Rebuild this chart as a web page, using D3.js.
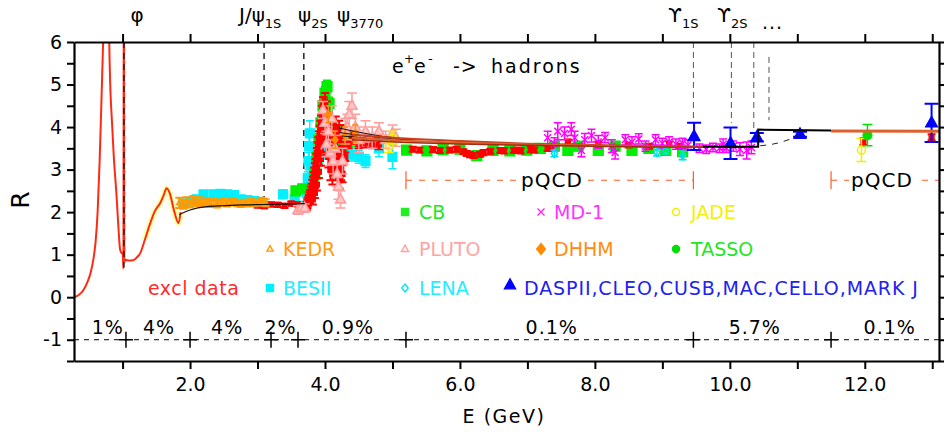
<!DOCTYPE html>
<html>
<head>
<meta charset="utf-8">
<script src="https://cdn.jsdelivr.net/npm/d3@7"></script>
<style>
  body { margin: 0; background: #fff; }
  svg { display: block; }
  text { font-family: "DejaVu Sans", sans-serif; }
</style>
</head>
<body>
<svg id="chart" width="944" height="432"></svg>
<script>
// ---------------- data: R = sigma(e+e- -> hadrons) / sigma(e+e- -> mu+mu-) ----------------
// exclusive-channel sum below 2 GeV  [E (GeV), R]
const exclCurve = [
  [0.28,0],[0.35,0.05],[0.42,0.17],[0.48,0.36],[0.53,0.6],[0.57,0.92],[0.60,1.3],[0.63,2.0],
  [0.66,3.2],[0.69,4.8],[0.715,6.2],[0.745,8.4],[0.775,9.6],[0.79,8.0],[0.80,6.3],[0.815,5.1],
  [0.84,4.2],[0.87,3.3],[0.91,2.4],[0.94,1.6],[0.963,1.12],[0.985,1.04],[1.003,1.0],[1.012,0.67],
  [1.0195,9.0],[1.027,0.82],[1.045,0.88],[1.086,0.86],[1.16,0.87],[1.22,0.95],[1.26,1.03],
  [1.33,1.35],[1.41,1.74],[1.48,2.03],[1.56,2.22],[1.61,2.4],[1.65,2.56],[1.70,2.44],
  [1.76,2.05],[1.83,1.74],[1.86,2.0]
];
// uncertainty halo of the exclusive sum
const exclHalo = exclCurve.filter(p => p[0] >= 1.3);

// theory curves
const theoryLow   = [[1.84,1.94],[2.0,2.05],[2.25,2.13],[2.5,2.15],[2.8,2.17],[3.1,2.18],[3.7,2.2]];
const theoryFanA  = [[4.2,3.98],[4.7,3.82],[5.3,3.7]];
const theoryFanB  = [[4.22,3.87],[4.7,3.77],[5.3,3.69]];
const theoryFanC  = [[4.25,3.79],[4.7,3.73],[5.3,3.68]];
const pqcdBandA   = [[4.4,3.82],[5.2,3.73],[6.0,3.67],[7.0,3.61],[8.0,3.58],[9.0,3.55],[9.6,3.54]];
const pqcdBandB   = [[4.4,3.75],[5.2,3.68],[6.0,3.63],[7.0,3.59],[8.0,3.56],[9.0,3.54],[9.6,3.54]];
const pqcdBandC   = [[4.4,3.7],[5.2,3.64],[6.0,3.6],[7.0,3.57],[8.0,3.55],[9.0,3.53],[9.6,3.53]];
const bottomStep  = [[9.6,3.54],[10.42,3.54],[10.42,3.94],[11.5,3.92]];
const highTail    = [[11.5,3.91],[13.1,3.9]];
const threshCurve = [[10.45,3.56],[10.7,3.62],[10.95,3.75],[11.1,3.85]];

// measurements  [E (GeV), R, error]
const besII = [
  [1.9,2.2,0.1],[2.0,2.25,0.08],[2.1,2.3,0.08],[2.2,2.42,0.08],[2.35,2.42,0.08],[2.45,2.43,0.08],
  [2.55,2.42,0.08],[2.65,2.4,0.08],[2.75,2.3,0.08],[2.85,2.28,0.08],[2.95,2.26,0.08],[3.07,2.2,0.07],
  [3.38,2.42,0.1],[3.55,2.3,0.1],[3.65,2.15,0.1],[3.73,2.45,0.12],[3.745,2.8,0.15],[3.755,3.2,0.2],
  [3.765,3.55,0.25],[3.775,3.85,0.3],[3.79,3.1,0.2],[3.85,2.95,0.2],[3.9,3.2,0.2],[4.0,3.45,0.2],
  [4.1,3.85,0.2],[4.2,3.55,0.2],[4.3,3.4,0.15],[4.4,3.35,0.15],[4.5,3.3,0.15],[4.6,3.2,0.15],
  [4.8,3.5,0.2],[5.0,3.3,0.28]
];
const cb = [
  [3.57,2.5,0.08],[3.67,2.55,0.08],[3.85,2.9,0.15],[3.88,3.3,0.15],[3.91,3.7,0.15],[3.94,4.1,0.15],
  [3.97,4.5,0.15],[4.0,4.8,0.15],[4.03,4.95,0.15],[4.06,4.55,0.15],[4.1,4.0,0.15],[4.13,3.7,0.15],
  [4.17,3.9,0.15],[4.2,3.5,0.15],[4.25,3.45,0.15],[4.3,3.7,0.15],[4.35,3.8,0.15],[4.45,3.7,0.15],
  [5.21,3.46,0.1],[5.51,3.44,0.1],[5.75,3.47,0.1],[6.0,3.48,0.1],[6.25,3.33,0.1],[6.49,3.45,0.1],
  [6.74,3.44,0.1],[6.99,3.46,0.1],[7.19,3.5,0.1],[7.4,3.55,0.1],[7.6,3.45,0.1],[7.75,3.55,0.1],
  [8.05,3.45,0.1],[8.3,3.55,0.1],[8.55,3.45,0.1],[8.8,3.5,0.1],[9.05,3.45,0.1],[9.3,3.42,0.1]
];
const scanRed = [
  [3.0,2.16,0.05],[3.1,2.14,0.05],[3.2,2.18,0.05],[3.3,2.17,0.05],[3.4,2.15,0.05],[3.5,2.2,0.05],
  [3.6,2.18,0.05],[3.7,2.12,0.05],
  [3.73,2.15,0.1],[3.74,2.2,0.1],[3.75,2.25,0.1],[3.76,2.3,0.1],[3.77,2.35,0.12],[3.78,2.4,0.12],
  [3.79,2.48,0.12],[3.80,2.55,0.12],[3.81,2.62,0.14],[3.82,2.7,0.14],[3.83,2.8,0.14],[3.84,2.9,0.15],
  [3.85,3.0,0.15],[3.86,3.1,0.15],[3.87,3.22,0.15],[3.88,3.35,0.16],[3.89,3.48,0.16],[3.90,3.6,0.16],
  [3.91,3.72,0.18],[3.92,3.85,0.18],[3.93,3.97,0.18],[3.94,4.1,0.18],[3.955,4.3,0.2],[3.97,4.5,0.2],
  [3.82,2.3,0.12],[3.85,2.45,0.12],[3.88,2.65,0.14],[3.91,2.95,0.15],[3.94,3.25,0.16],[3.97,3.6,0.18],
  [3.96,4.4,0.2],[3.97,4.0,0.2],[3.98,4.5,0.2],[3.99,3.8,0.2],[4.0,4.6,0.2],
  [4.01,4.2,0.2],[4.02,3.6,0.25],[4.03,4.4,0.2],[4.04,3.9,0.25],[4.05,3.3,0.25],[4.06,4.1,0.25],
  [4.07,3.5,0.25],[4.08,3.0,0.25],[4.09,3.8,0.25],[4.10,3.2,0.25],[4.11,2.9,0.25],[4.12,3.6,0.25],
  [4.13,3.1,0.25],[4.14,3.9,0.25],[4.15,3.4,0.25],[4.16,4.0,0.25],[4.17,3.0,0.25],[4.18,3.7,0.25],
  [4.19,2.8,0.25],[4.20,3.3,0.25],[4.21,3.9,0.25],[4.22,2.75,0.2],[4.23,3.5,0.25],[4.24,3.0,0.25],
  [4.25,3.8,0.25],[4.26,2.9,0.2],[4.27,3.4,0.25],
  [4.30,3.3,0.1],[4.35,3.6,0.1],[4.40,3.8,0.1],[4.45,3.7,0.1],[4.5,3.6,0.1],[4.6,3.62,0.1],
  [4.7,3.6,0.1],[4.8,3.58,0.1],
  [5.3,3.48,0.06],[5.4,3.46,0.06],[5.6,3.47,0.06],[5.7,3.45,0.06],[5.85,3.46,0.06],[5.95,3.48,0.06],
  [6.05,3.42,0.06],[6.1,3.38,0.06],[6.15,3.35,0.06],[6.2,3.33,0.06],[6.3,3.36,0.06],[6.35,3.4,0.06],
  [6.45,3.43,0.06],[6.6,3.45,0.06],[6.65,3.44,0.06],[6.8,3.45,0.06],[6.85,3.46,0.06],[6.9,3.44,0.06],
  [7.05,3.47,0.06],[7.1,3.46,0.06],[7.3,3.5,0.06],[7.35,3.52,0.06],
  [7.6,3.65,0.06],[8.05,3.6,0.06],[8.5,3.58,0.06],[8.8,3.55,0.06],[9.1,3.6,0.06],[9.25,3.55,0.06],
  [11.98,3.66,0.08],[12.99,3.76,0.07]
];
const pluto = [
  [3.6,2.05,0.1],[3.65,2.1,0.1],[3.7,2.1,0.1],[3.97,4.4,0.2],[4.0,4.1,0.25],[4.02,3.6,0.3],
  [4.05,3.9,0.3],[4.08,3.4,0.3],[4.1,4.2,0.3],[4.12,3.2,0.3],[4.15,3.5,0.3],[4.18,2.9,0.3],
  [4.2,2.6,0.3],[4.23,2.3,0.2],[4.26,3.2,0.3],[4.3,3.9,0.3],[4.33,4.0,0.3],[4.36,4.3,0.3],
  [4.4,4.5,0.3],[4.45,4.0,0.3],[4.5,3.7,0.3],[4.6,3.9,0.25],[4.7,3.75,0.25],[4.8,3.9,0.2],
  [4.9,3.7,0.2],[5.0,3.85,0.2],[5.05,3.75,0.2]
];
const dhhm = [[4.05,4.3,0.2],[4.15,3.7,0.2],[4.3,3.8,0.2],[4.45,3.85,0.2]];
const kedr = [
  [1.84,2.22,0.12],[1.90,2.18,0.1],[1.95,2.25,0.1],[2.0,2.2,0.09],[2.05,2.28,0.1],[2.1,2.22,0.08],
  [2.15,2.26,0.09],[2.2,2.21,0.08],[2.25,2.24,0.08],[2.3,2.2,0.08],[2.35,2.23,0.08],[2.4,2.19,0.08],
  [2.45,2.22,0.07],[2.5,2.24,0.08],[2.55,2.2,0.07],[2.6,2.23,0.07],[2.65,2.25,0.08],[2.7,2.21,0.07],
  [2.75,2.19,0.07],[2.8,2.22,0.07],[2.85,2.2,0.07],[2.9,2.24,0.07],[2.95,2.21,0.07],[3.0,2.22,0.07],
  [3.05,2.26,0.08],[3.08,2.24,0.08],[3.12,2.22,0.08]
];
const md1 = [
  [7.3,3.75,0.15],[7.4,3.6,0.15],[7.45,3.9,0.2],[7.55,3.85,0.15],[7.65,3.95,0.15],[7.7,3.75,0.15],
  [7.8,3.45,0.15],[7.85,3.7,0.15],[7.95,3.8,0.15],[8.05,3.65,0.15],[8.15,3.75,0.12],[8.25,3.55,0.15],
  [8.3,3.4,0.15],[8.45,3.7,0.12],[8.55,3.65,0.12],[8.65,3.72,0.12],[8.75,3.55,0.12],[8.9,3.7,0.12],
  [9.0,3.62,0.12],[9.1,3.65,0.12],[9.2,3.6,0.12],[9.3,3.62,0.12],[9.38,3.58,0.12],[9.55,3.5,0.1],
  [9.65,3.48,0.1],[9.75,3.52,0.1],[9.85,3.5,0.1],[9.9,3.6,0.12],[9.95,3.5,0.1],[10.05,3.55,0.12],
  [10.15,3.48,0.15],[10.25,3.45,0.2],[10.32,3.52,0.15]
];
const lena  = [[7.4,3.38,0.08],[8.92,3.4,0.08],[9.05,3.45,0.08],[9.3,3.33,0.1]];
const jade  = [[4.95,3.55,0.15],[5.0,3.75,0.15],[11.95,3.46,0.27]];
const tasso = [[12.04,3.81,0.25]];
const daspEtAl = [[9.47,3.78,0.32],[10.01,3.62,0.37],[10.4,3.76,0.1],[11.04,3.83,0.06],[12.99,4.1,0.45]];

// resonances: vertical marker lines [E, lower R]
const lightResE   = [1.0195, 3.097, 3.686];
const lightResLow = [0.7, 2.35, 2.3];
const upsilonE    = [9.46, 10.023, 10.355, 10.58];
const upsilonLow  = [4.1, 4.1, 3.86, 4.16];
const upsilonTop  = [6, 6, 6, 5.65];

// systematic-uncertainty regions along R = -1
const segmentE      = [1.05, 2.0, 3.2, 3.6, 5.2, 9.46, 11.5];
const percentLabels = ["1%", "4%", "4%", "2%", "0.9%", "0.1%", "5.7%", "0.1%"];
const percentE      = [0.78, 1.54, 2.55, 3.34, 4.34, 7.36, 10.37, 12.37];

// perturbative QCD ranges at R = 2.75
const pqcdRanges = [[5.2, 9.46], [11.5, 13.1]];
const pqcdLevel  = 2.75;

const xTicks = d3.range(1, 14);
const yTicks = d3.range(-1.5, 6.01, 0.5);

// ---------------- layout ----------------
const svg = d3.select("#chart");
const x = d3.scaleLinear().domain([0.28, 13.1]).range([74, 939]);
const y = d3.scaleLinear().domain([-1.5, 6]).range([361, 42]);

svg.append("defs").append("clipPath").attr("id", "plotClip")
  .append("rect").attr("x", 74).attr("y", 42).attr("width", 865).attr("height", 319);

const plot = svg.append("g").attr("clip-path", "url(#plotClip)");
const line = d3.line().x(d => x(d[0])).y(d => y(d[1]));
const smooth = d3.line().x(d => x(d[0])).y(d => y(d[1])).curve(d3.curveMonotoneX);

// R = -1 reference line with segment boundaries
plot.append("line").attr("x1", x(0.28)).attr("x2", x(13.1)).attr("y1", y(-1)).attr("y2", y(-1))
  .attr("stroke", "#000").attr("stroke-width", 1).attr("stroke-dasharray", "5,5");
plot.selectAll(".seg").data(segmentE).enter().append("path")
  .attr("d", e => `M${x(e) - 7},${y(-1)}h14M${x(e)},${y(-1) - 8}v16`)
  .attr("stroke", "#000").attr("stroke-width", 1.5);

// pQCD ranges
pqcdRanges.forEach(r => {
  plot.append("line").attr("x1", x(r[0])).attr("x2", x(r[1])).attr("y1", y(pqcdLevel)).attr("y2", y(pqcdLevel))
    .attr("stroke", "#ff5a28").attr("stroke-width", 1.2).attr("stroke-dasharray", "6,7");
  r.forEach(e => {
    if (e < 13) plot.append("line").attr("x1", x(e)).attr("x2", x(e))
      .attr("y1", y(pqcdLevel) - 9).attr("y2", y(pqcdLevel) + 9)
      .attr("stroke", "#ff5a28").attr("stroke-width", 1.2);
  });
});

// exclusive data curve
plot.append("path").attr("d", smooth(exclHalo)).attr("fill", "none")
  .attr("stroke", "#ffffa8").attr("stroke-width", 6).attr("stroke-linejoin", "round");
plot.append("path").attr("d", smooth(exclCurve)).attr("fill", "none")
  .attr("stroke", "#ff2a14").attr("stroke-width", 2);

// resonance lines
lightResE.forEach((e, i) => {
  plot.append("line").attr("x1", x(e)).attr("x2", x(e)).attr("y1", y(6)).attr("y2", y(lightResLow[i]))
    .attr("stroke", "#222").attr("stroke-width", 1.5).attr("stroke-dasharray", "6,5");
});
upsilonE.forEach((e, i) => {
  plot.append("line").attr("x1", x(e)).attr("x2", x(e)).attr("y1", y(upsilonTop[i])).attr("y2", y(upsilonLow[i]))
    .attr("stroke", "#555").attr("stroke-width", 1).attr("stroke-dasharray", "6,4");
});

// marker shapes
function shape(kind, s) {
  switch (kind) {
    case "square":   return `M${-s},${-s}h${2 * s}v${2 * s}h${-2 * s}Z`;
    case "triangle": return `M0,${-s * 1.1}L${s},${s * 0.7}L${-s},${s * 0.7}Z`;
    case "diamond":  return `M0,${-s}L${s * 0.8},0L0,${s}L${-s * 0.8},0Z`;
    case "circle":   return `M${s},0A${s},${s} 0 1,1 ${-s},0A${s},${s} 0 1,1 ${s},0Z`;
    case "cross":    return `M${-s},${-s}L${s},${s}M${s},${-s}L${-s},${s}`;
  }
}

function drawSeries(data, st) {
  const g = plot.append("g");
  g.selectAll("path.err").data(data).enter().append("path")
    .attr("d", d => {
      const px = x(d[0]), lo = y(d[1] - d[2]), hi = y(d[1] + d[2]);
      return `M${px},${lo}V${hi}M${px - st.cap},${hi}h${2 * st.cap}M${px - st.cap},${lo}h${2 * st.cap}`;
    })
    .attr("fill", "none").attr("stroke", st.bar || st.color).attr("stroke-width", st.barWidth || 1.5);
  g.selectAll("path.mk").data(data).enter().append("path")
    .attr("transform", d => `translate(${x(d[0])},${y(d[1])})`)
    .attr("d", shape(st.shape, st.size))
    .attr("fill", st.fill ? st.color : (st.innerFill || "none"))
    .attr("stroke", st.color).attr("stroke-width", st.stroke || 1.2);
}

drawSeries(besII,   { color: "#00f0ff", shape: "square",   size: 4.5, fill: true, cap: 4 });
drawSeries(cb,      { color: "#00ee00", shape: "square",   size: 5,   fill: true, cap: 4 });
drawSeries(scanRed, { color: "#ff0000", shape: "square",   size: 2.5, fill: true, cap: 4, barWidth: 2 });
drawSeries(pluto,   { color: "#ff9c9c", shape: "triangle", size: 5,   fill: false, innerFill: "#ffc8c8", cap: 5, stroke: 1.6 });
drawSeries(dhhm,    { color: "#ff8c00", shape: "diamond",  size: 4,   fill: true, cap: 3 });
drawSeries(kedr,    { color: "#ff9a00", shape: "triangle", size: 3,   fill: false, cap: 4, barWidth: 2 });
drawSeries(md1,     { color: "#ff00ff", shape: "cross",    size: 3.5, fill: false, cap: 4, stroke: 1.5 });
drawSeries(lena,    { color: "#00e0e8", shape: "diamond",  size: 4,   fill: false, cap: 4, stroke: 1.5 });
drawSeries(jade,    { color: "#f0f000", shape: "circle",   size: 4,   fill: false, cap: 5, stroke: 1.5 });
drawSeries(tasso,   { color: "#00e000", shape: "circle",   size: 4.5, fill: true,  cap: 5 });
drawSeries(daspEtAl,{ color: "#0000ff", shape: "triangle", size: 6,   fill: true,  cap: 7, barWidth: 2 });

// theory curves on top of the data
[theoryFanA, theoryFanB, theoryFanC].forEach(c =>
  plot.append("path").attr("d", smooth(c)).attr("fill", "none").attr("stroke", "#111").attr("stroke-width", 1));
plot.append("path").attr("d", smooth(theoryLow)).attr("fill", "none").attr("stroke", "#111").attr("stroke-width", 1.2);
plot.append("path").attr("d", smooth(pqcdBandA)).attr("fill", "none").attr("stroke", "#c8401c").attr("stroke-width", 2);
plot.append("path").attr("d", smooth(pqcdBandB)).attr("fill", "none").attr("stroke", "#e0602c").attr("stroke-width", 2);
plot.append("path").attr("d", smooth(pqcdBandC)).attr("fill", "none").attr("stroke", "#a02c14").attr("stroke-width", 1.5);
plot.append("path").attr("d", line(bottomStep)).attr("fill", "none").attr("stroke", "#000").attr("stroke-width", 2);
plot.append("path").attr("d", line(highTail)).attr("fill", "none").attr("stroke", "#e0602c").attr("stroke-width", 3);
plot.append("path").attr("d", smooth(threshCurve)).attr("fill", "none").attr("stroke", "#222")
  .attr("stroke-width", 1).attr("stroke-dasharray", "6,6");

// ---------------- axes ----------------
function styleAxis(g) {
  g.attr("font-family", "DejaVu Sans").attr("font-size", 19);
  g.select(".domain").attr("stroke", "#000").attr("stroke-width", 2.2);
  g.selectAll(".tick line").attr("stroke", "#000").attr("stroke-width", 2);
  g.selectAll(".tick text").attr("fill", "#000");
}
svg.append("g").attr("transform", "translate(0,361)")
  .call(d3.axisBottom(x).tickValues(xTicks).tickSize(8).tickSizeOuter(0).tickPadding(9)
    .tickFormat(d => d % 2 === 0 ? d3.format(".1f")(d) : ""))
  .call(styleAxis);
svg.append("g").attr("transform", "translate(0,42)")
  .call(d3.axisTop(x).tickValues(xTicks).tickSize(8).tickSizeOuter(0).tickFormat(""))
  .call(styleAxis);
svg.append("g").attr("transform", "translate(74,0)")
  .call(d3.axisLeft(y).tickValues(yTicks).tickSize(7).tickSizeOuter(0).tickPadding(5)
    .tickFormat(d => (Number.isInteger(d) ? String(d) : "")))
  .call(styleAxis);
svg.append("g").attr("transform", "translate(939,0)")
  .call(d3.axisRight(y).tickValues(yTicks).tickSize(6).tickSizeOuter(0).tickFormat(""))
  .call(styleAxis);

// axis titles
svg.append("text").attr("transform", "translate(29,200) rotate(-90)").attr("text-anchor", "middle")
  .attr("font-size", 25).text("R");
svg.append("text").attr("x", 504).attr("y", 423).attr("text-anchor", "middle")
  .attr("font-size", 19).attr("letter-spacing", 1.5).text("E (GeV)");

// ---------------- annotations ----------------
function label(str, px, py, opt = {}) {
  return svg.append("text").attr("x", px).attr("y", py)
    .attr("font-size", opt.size || 19).attr("fill", opt.color || "#000")
    .attr("text-anchor", opt.anchor || "start")
    .attr("letter-spacing", opt.ls || 0).text(str);
}

// resonance names
label("φ", 137, 22, { anchor: "middle", size: 20 });
function resName(main, sub, px) {
  const t = svg.append("text").attr("x", px).attr("y", 22).attr("font-size", 20);
  t.append("tspan").text(main);
  t.append("tspan").attr("dy", 6).attr("font-size", 13).text(sub);
}
resName("J/ψ", "1S", 239);
resName("ψ", "2S", 298);
resName("ψ", "3770", 337);
resName("ϒ", "1S", 668);
resName("ϒ", "2S", 717);
label("...", 762, 29, { size: 19, ls: 1 });

// process title
label("e", 392, 73, { size: 19 });
label("+", 404, 63, { size: 12 });
label("e", 414, 73, { size: 19 });
label("-", 428, 63, { size: 13 });
label("->", 453, 73, { size: 19, ls: 1 });
label("hadrons", 491, 73, { size: 19, ls: 2 });

// pQCD labels with a white backdrop over the dashed line
[[552, "pQCD"], [882, "pQCD"]].forEach(([cx, s]) => {
  svg.append("rect").attr("x", cx - 33).attr("y", y(pqcdLevel) - 12).attr("width", 66).attr("height", 22).attr("fill", "#fff");
  label(s, cx, y(pqcdLevel) + 7, { anchor: "middle", size: 20, ls: 1 });
});

// systematic percentages
percentLabels.forEach((s, i) => label(s, x(percentE[i]), 334, { anchor: "middle", size: 19, ls: 1 }));

// legend
const legendItems = [
  { name: "CB",    color: "#22ee22", text: "#22e622", shape: "square",   size: 3.5, fill: true,  mx: 405, my: 212, tx: 419, ty: 219 },
  { name: "MD-1",  color: "#ff22ff", text: "#ff33ff", shape: "cross",    size: 3.5, fill: false, mx: 541, my: 212, tx: 554, ty: 219 },
  { name: "JADE",  color: "#f0f000", text: "#f2f200", shape: "circle",   size: 3.5, fill: false, mx: 676, my: 212, tx: 691, ty: 219 },
  { name: "KEDR",  color: "#ff9a00", text: "#ff9a10", shape: "triangle", size: 3,   fill: false, mx: 270, my: 249, tx: 283, ty: 256 },
  { name: "PLUTO", color: "#ffa0a0", text: "#ffa4a4", shape: "triangle", size: 3.5, fill: false, mx: 405, my: 249, tx: 419, ty: 256 },
  { name: "DHHM",  color: "#ff8c00", text: "#ff8c10", shape: "diamond",  size: 5.5, fill: true,  mx: 541, my: 249, tx: 554, ty: 256 },
  { name: "TASSO", color: "#00e000", text: "#22e622", shape: "circle",   size: 3.5, fill: true,  mx: 676, my: 249, tx: 691, ty: 256 },
  { name: "BESII", color: "#00f0ff", text: "#22eeff", shape: "square",   size: 3.5, fill: true,  mx: 270, my: 288, tx: 283, ty: 295 },
  { name: "LENA",  color: "#00e8f0", text: "#22eeff", shape: "diamond",  size: 4,   fill: false, mx: 405, my: 288, tx: 419, ty: 295 },
  { name: "DASPII,CLEO,CUSB,MAC,CELLO,MARK J", color: "#0000ff", text: "#2222ee", shape: "triangle", size: 5.5, fill: true, mx: 510, my: 285, tx: 524, ty: 295, ls: 0.9 }
];
legendItems.forEach(it => {
  svg.append("path").attr("transform", `translate(${it.mx},${it.my})`).attr("d", shape(it.shape, it.size))
    .attr("fill", it.fill ? it.color : "none").attr("stroke", it.color).attr("stroke-width", 1.4);
  label(it.name, it.tx, it.ty, { color: it.text, ls: it.ls || 0 });
});
label("excl data", 148, 295, { color: "#ff2a2a", ls: 0.5 });
</script>
</body>
</html>
